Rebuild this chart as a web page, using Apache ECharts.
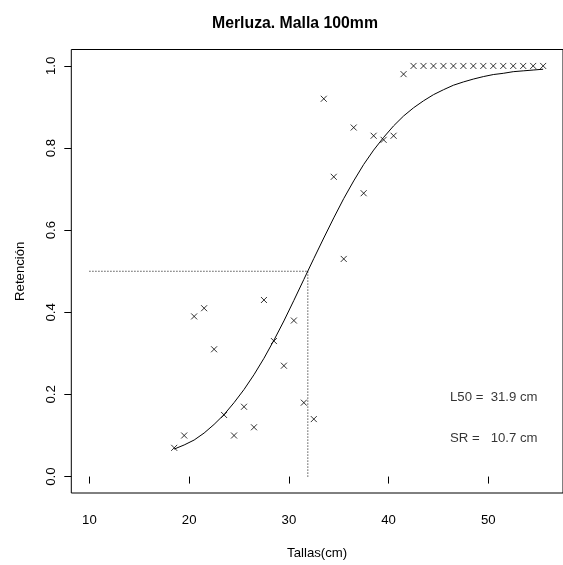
<!DOCTYPE html>
<html>
<head>
<meta charset="utf-8">
<script src="https://cdn.jsdelivr.net/npm/echarts@6/dist/echarts.min.js"></script>
<style>html,body{margin:0;padding:0;background:#fff;}#c{width:563px;height:565px;}</style>
</head>
<body>
<div id="c"></div>
<script>
// Observed data (length class midpoints, retention)
const tallas = [18.5,19.5,20.5,21.5,22.5,23.5,24.5,25.5,26.5,27.5,28.5,29.5,30.5,31.5,32.5,33.5,34.5,35.5,36.5,37.5,38.5,39.5,40.5,41.5,42.5,43.5,44.5,45.5,46.5,47.5,48.5,49.5,50.5,51.5,52.5,53.5,54.5,55.5];
const retencion = [0.07,0.10,0.39,0.41,0.31,0.15,0.10,0.17,0.12,0.43,0.33,0.27,0.38,0.18,0.14,0.92,0.73,0.53,0.85,0.69,0.83,0.82,0.83,0.98,1,1,1,1,1,1,1,1,1,1,1,1,1,1];
// Fitted curve
const ajuste = [0.067,0.077,0.089,0.106,0.127,0.151,0.180,0.212,0.248,0.288,0.332,0.379,0.429,0.480,0.531,0.581,0.630,0.677,0.720,0.760,0.795,0.826,0.854,0.878,0.898,0.915,0.930,0.942,0.953,0.961,0.968,0.974,0.979,0.982,0.986,0.988,0.990,0.992];
const L50 = 31.9;
const SR = 10.7;
const xTicks = [10,20,30,40,50];
const yTicks = [0,0.2,0.4,0.6,0.8,1.0];
const yTickLabels = ['0.0','0.2','0.4','0.6','0.8','1.0'];
const annot = [[50.55,0.194,'L50 =  31.9 cm'],[50.55,0.093,'SR =   10.7 cm']];

const FONT = "'Liberation Sans', Arial, Helvetica, sans-serif";
const chart = echarts.init(document.getElementById('c'), null, {renderer:'canvas'});
const obs = tallas.map((t,i)=>[t, retencion[i]]);
const fit = tallas.map((t,i)=>[t, ajuste[i]]);
chart.setOption({
  animation:false,
  backgroundColor:'#fff',
  title:{text:'Merluza. Malla 100mm', left:207, top:11,
    textStyle:{fontFamily:FONT, fontSize:15.8, fontWeight:'bold', color:'#000'}},
  grid:{left:71.3, top:49.5, right:-2, bottom:71, show:true, borderColor:'#000', borderWidth:1, backgroundColor:'transparent'},
  xAxis:{type:'value', min:8.18, max:57.49,
    name:'Tallas(cm)', nameLocation:'middle', nameGap:54,
    nameTextStyle:{fontFamily:FONT, fontSize:13.2, color:'#000'},
    axisLine:{show:false}, splitLine:{show:false},
    axisTick:{show:true, length:7, customValues:xTicks, lineStyle:{color:'#000', width:1}},
    axisLabel:{customValues:xTicks, margin:21, fontFamily:FONT, fontSize:13.2, color:'#000'}},
  yAxis:{type:'value', min:-0.04, max:1.04,
    name:'Retención', nameLocation:'middle', nameGap:44, nameRotate:90,
    nameTextStyle:{fontFamily:FONT, fontSize:13.2, color:'#000'},
    axisLine:{show:false}, splitLine:{show:false},
    axisTick:{show:true, length:7, customValues:yTicks, lineStyle:{color:'#000', width:1}},
    axisLabel:{customValues:yTicks, rotate:90, margin:13, fontFamily:FONT, fontSize:13.2, color:'#000',
      formatter:v=>{const i=yTicks.findIndex(t=>Math.abs(t-v)<1e-9);return i>=0?yTickLabels[i]:'';}}},
  series:[
    {type:'line', data:[[10,0.5],[L50,0.5]], symbol:'none', lineStyle:{color:'#000', width:1, type:[1,2]}, silent:true},
    {type:'line', data:[[L50,0],[L50,0.5]], symbol:'none', lineStyle:{color:'#000', width:1, type:[1,2]}, silent:true},
    {type:'line', data:fit, symbol:'none', smooth:false, lineStyle:{color:'#000', width:1}},
    {type:'scatter', data:obs, symbol:'path://M0,0L10,10M10,0L0,10', symbolSize:6,
      itemStyle:{color:'transparent', borderColor:'#000', borderWidth:1}},
    {type:'scatter', data:annot, symbolSize:0, silent:true,
      label:{show:true, position:'inside', formatter:p=>p.data[2], fontFamily:FONT, fontSize:13.2, color:'#000'}}
  ]
});
</script>
</body>
</html>
